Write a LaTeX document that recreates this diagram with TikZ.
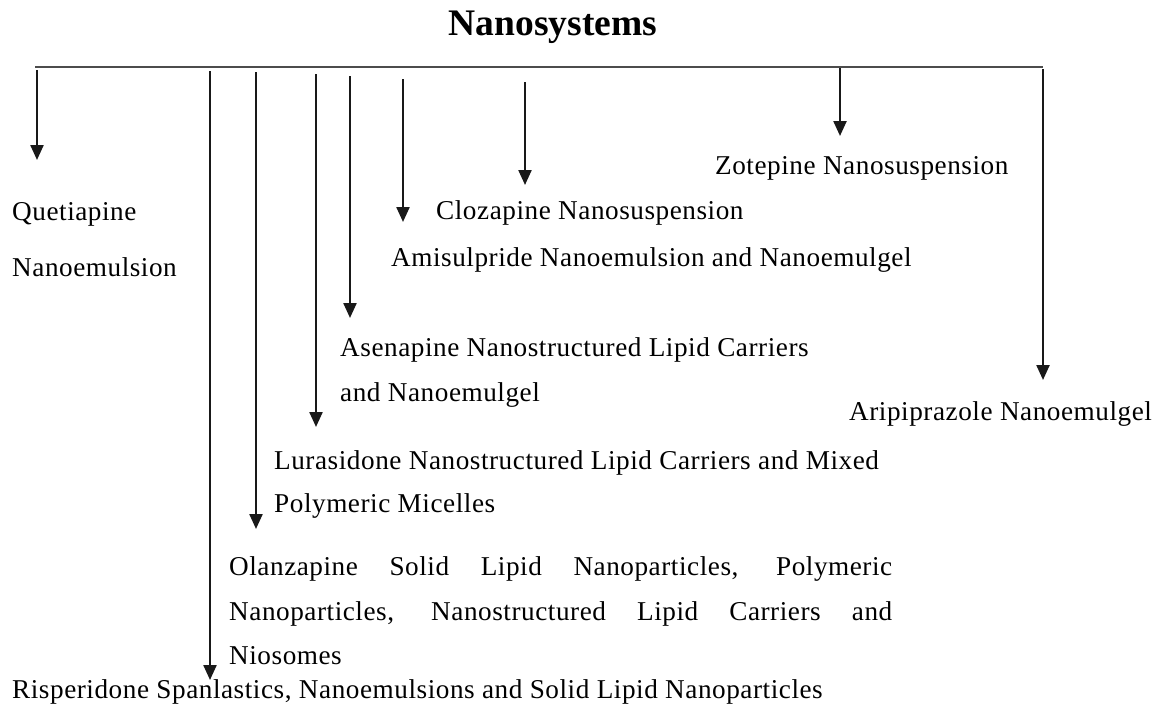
\documentclass[tikz,border=0pt]{standalone}
\usepackage{fontspec}
\setmainfont{Liberation Serif}
\newfontfamily\labfont[LetterSpace=2.0]{Liberation Serif}
\usetikzlibrary{arrows.meta}
\begin{document}
\begin{tikzpicture}[x=1pt,y=-1pt,
  lab/.style={anchor=base west,inner sep=0pt,font=\labfont\fontsize{27.2}{30}\selectfont},
  conn/.style={line width=2.3pt,draw=black!90,-{Triangle[width=13pt,length=15pt]}},
  bar/.style={line width=2.6pt,draw=black!70}]
\useasboundingbox (0,0) rectangle (1155,707);
\node[font=\bfseries\fontsize{37.5}{40}\selectfont,inner sep=0pt] (title) at (553,27) {Nanosystems};
\coordinate (L) at (35,67);
\coordinate (R) at (1043,67);
\draw[bar] (L) -- (R);
% labels
\node[lab] (que1) at (12,220) {Quetiapine};
\node[lab] (que2) at (12,276) {Nanoemulsion};
\node[lab] (clo) at (436,219) {Clozapine Nanosuspension};
\node[lab] (ami) at (391,266) {Amisulpride Nanoemulsion and Nanoemulgel};
\node[lab] (zot) at (715,174) {Zotepine Nanosuspension};
\node[lab] (ase1) at (340,356) {Asenapine Nanostructured Lipid Carriers};
\node[lab] (ase2) at (340,401) {and Nanoemulgel};
\node[lab] (ari) at (849,420) {Aripiprazole Nanoemulgel};
\node[lab] (lur1) at (274,469) {Lurasidone Nanostructured Lipid Carriers and Mixed};
\node[lab] (lur2) at (274,512) {Polymeric Micelles};
\node[lab] (ola1) at (229,575) {\makebox[663pt][s]{Olanzapine Solid Lipid Nanoparticles, Polymeric}};
\node[lab] (ola2) at (229,620) {\makebox[663pt][s]{Nanoparticles, Nanostructured Lipid Carriers and}};
\node[lab] (ola3) at (229,664) {Niosomes};
\node[lab] (ris) at (12,698) {Risperidone Spanlastics, Nanoemulsions and Solid Lipid Nanoparticles};
% arrow start/end coordinates
\coordinate (s1) at (37,70);   \coordinate (e1) at (37,160);
\coordinate (s2) at (210,71);  \coordinate (e2) at (210,680);
\coordinate (s3) at (256,72);  \coordinate (e3) at (256,529);
\coordinate (s4) at (316,74);  \coordinate (e4) at (316,427);
\coordinate (s5) at (350,76);  \coordinate (e5) at (350,318);
\coordinate (s6) at (403,79);  \coordinate (e6) at (403,222);
\coordinate (s7) at (525,82);  \coordinate (e7) at (525,185);
\coordinate (s8) at (840,68);  \coordinate (e8) at (840,136);
\coordinate (s9) at (1043,69); \coordinate (e9) at (1043,380);
\foreach \i in {1,...,9} {\draw[conn] (s\i) -- (e\i);}
\end{tikzpicture}
\end{document}
